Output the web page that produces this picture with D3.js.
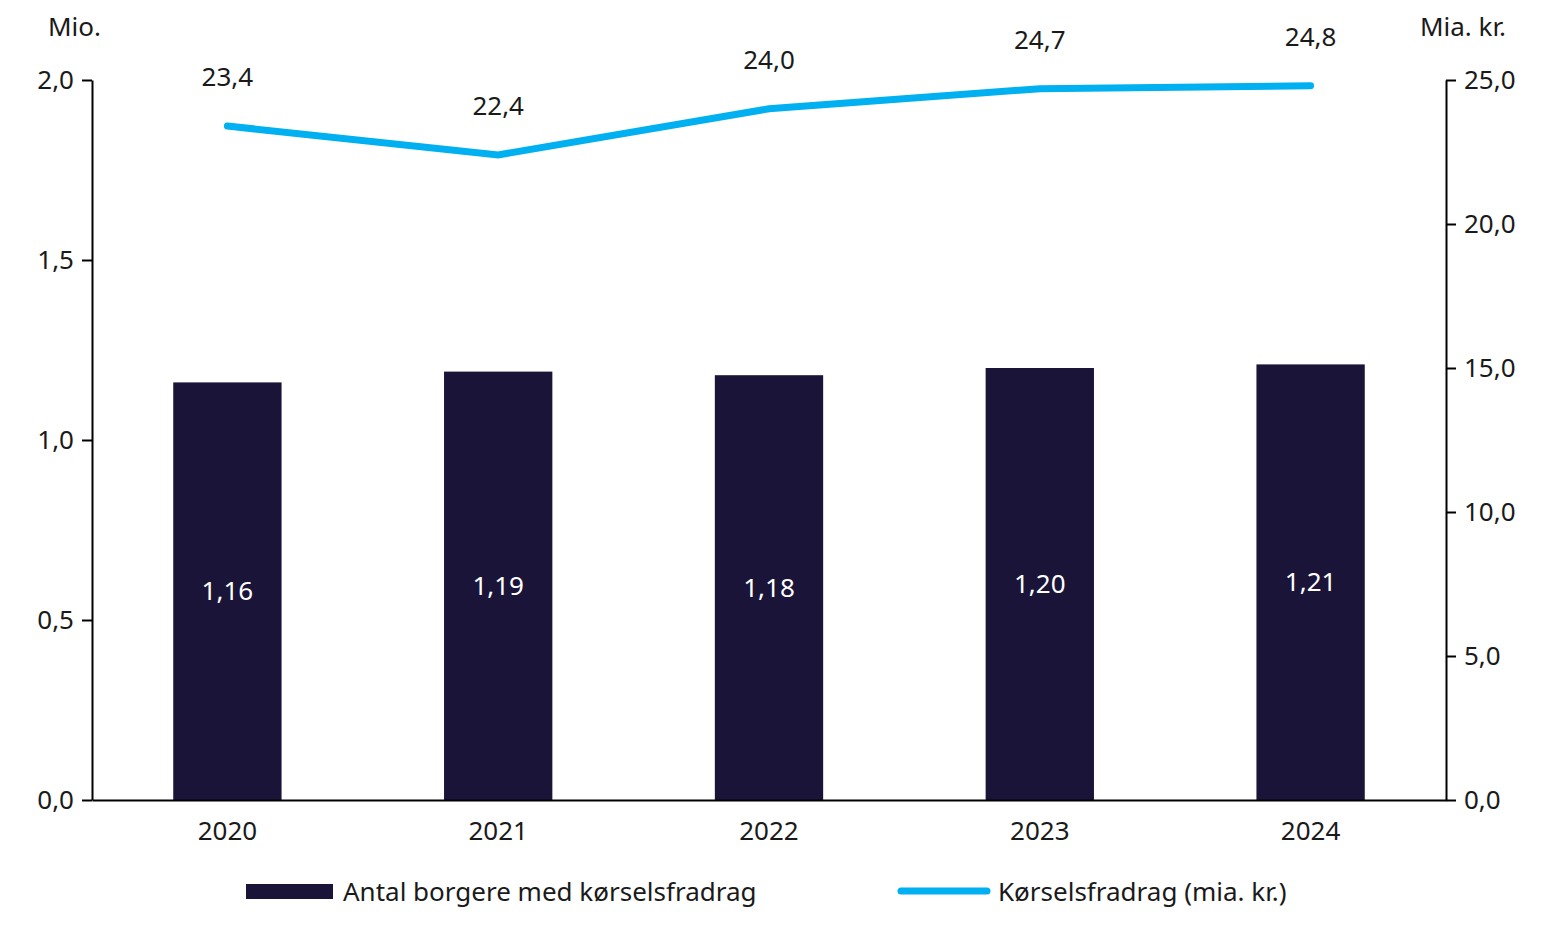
<!DOCTYPE html>
<html><head><meta charset="utf-8">
<script src="https://cdn.jsdelivr.net/npm/d3@7"></script>
<style>body{margin:0;background:#fff}text{font-family:"Noto Sans",Lato,sans-serif;fill:#1a1a1a}</style>
</head><body><svg id="c" width="1566" height="950"></svg>
<script>
const years=["2020","2021","2022","2023","2024"];
const borgere=[1.16,1.19,1.18,1.20,1.21];
const fradrag=[23.4,22.4,24.0,24.7,24.8];
const leftTicks=[0,0.5,1.0,1.5,2.0];
const rightTicks=[0,5,10,15,20,25];
const fmt=(v,d)=>v.toFixed(d).replace(".",",");
const svg=d3.select("#c");
const L=92,R=1446,T=80,B=800;
const x=d3.scaleBand().domain(years).range([L,R]).paddingInner(0.6).paddingOuter(0.3);
const yl=d3.scaleLinear().domain([0,2]).range([B,T]);
const yr=d3.scaleLinear().domain([0,25]).range([B,T]);
const fs="26px";
svg.selectAll("rect.bar").data(borgere).join("rect").attr("x",(d,i)=>x(years[i])).attr("width",x.bandwidth())
 .attr("y",d=>yl(d)).attr("height",d=>B-yl(d)).attr("fill","#1a1538");
svg.selectAll("text.bl").data(borgere).join("text").attr("x",(d,i)=>x(years[i])+x.bandwidth()/2)
 .attr("y",d=>(yl(d)+B)/2).attr("dy","0.35em").attr("text-anchor","middle").style("font-size",fs).style("fill","#fff").text(d=>fmt(d,2));
const ax=g=>{g.selectAll("path,line").attr("stroke","#000").attr("stroke-width",2);g.selectAll("text").style("font-size",fs).style("font-family","Noto Sans, Lato, sans-serif").attr("fill","#1a1a1a");};
svg.append("g").attr("transform",`translate(${L},0)`).call(d3.axisLeft(yl).tickValues(leftTicks).tickSize(10).tickSizeOuter(0).tickPadding(8).tickFormat(d=>fmt(d,1))).call(ax);
svg.append("g").attr("transform",`translate(${R},0)`).call(d3.axisRight(yr).tickValues(rightTicks).tickSize(10).tickSizeOuter(0).tickPadding(8).tickFormat(d=>fmt(d,1))).call(ax);
svg.append("g").attr("transform",`translate(0,${B})`).call(d3.axisBottom(x).tickSize(0).tickPadding(22)).call(ax);
const cx=i=>x(years[i])+x.bandwidth()/2;
svg.append("path").datum(fradrag).attr("fill","none").attr("stroke","#00b0f0").attr("stroke-width",7).attr("stroke-linecap","round")
 .attr("d",d3.line().x((d,i)=>cx(i)).y(d=>yr(d)));
svg.selectAll("text.ll").data(fradrag).join("text").attr("x",(d,i)=>cx(i)).attr("y",d=>yr(d)-40).attr("text-anchor","middle").style("font-size",fs).text(d=>fmt(d,1));
svg.append("text").attr("x",48).attr("y",36).style("font-size",fs).text("Mio.");
svg.append("text").attr("x",1506).attr("y",36).attr("text-anchor","end").style("font-size",fs).text("Mia. kr.");
svg.append("rect").attr("x",246).attr("y",884).attr("width",87).attr("height",15).attr("fill","#1a1538");
svg.append("text").attr("x",343).attr("y",901).style("font-size",fs).text("Antal borgere med kørselsfradrag");
svg.append("line").attr("x1",901).attr("x2",987).attr("y1",891).attr("y2",891).attr("stroke","#00b0f0").attr("stroke-width",7).attr("stroke-linecap","round");
svg.append("text").attr("x",998).attr("y",901).style("font-size",fs).text("Kørselsfradrag (mia. kr.)");
</script></body></html>
